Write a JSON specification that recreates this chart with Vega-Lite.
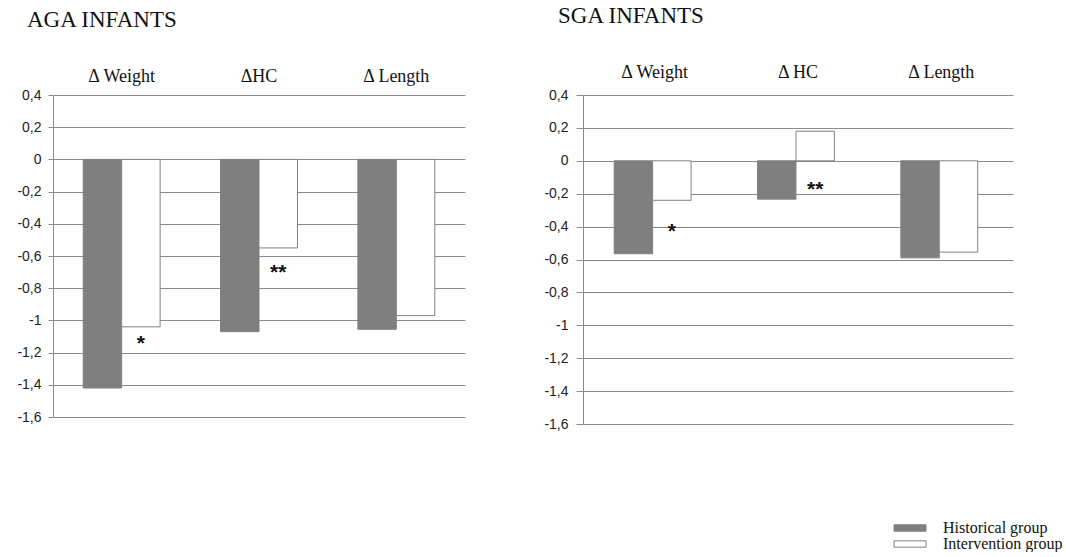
{
  "$schema": "https://vega.github.io/schema/vega-lite/v6.json",
  "padding": {"left": 16, "top": 5, "right": 5, "bottom": 0},
  "background": "white",
  "datasets": {
    "bars": [
      {"panel": "AGA", "measure": "Δ Weight", "group": "Historical group", "value": -1.42},
      {"panel": "AGA", "measure": "Δ Weight", "group": "Intervention group", "value": -1.04},
      {"panel": "AGA", "measure": "ΔHC", "group": "Historical group", "value": -1.07},
      {"panel": "AGA", "measure": "ΔHC", "group": "Intervention group", "value": -0.55},
      {"panel": "AGA", "measure": "Δ Length", "group": "Historical group", "value": -1.055},
      {"panel": "AGA", "measure": "Δ Length", "group": "Intervention group", "value": -0.97},
      {"panel": "SGA", "measure": "Δ Weight", "group": "Historical group", "value": -0.565},
      {"panel": "SGA", "measure": "Δ Weight", "group": "Intervention group", "value": -0.24},
      {"panel": "SGA", "measure": "Δ HC", "group": "Historical group", "value": -0.233},
      {"panel": "SGA", "measure": "Δ HC", "group": "Intervention group", "value": 0.18},
      {"panel": "SGA", "measure": "Δ Length", "group": "Historical group", "value": -0.59},
      {"panel": "SGA", "measure": "Δ Length", "group": "Intervention group", "value": -0.555}
    ],
    "stars": [
      {"panel": "AGA", "measure": "Δ Weight", "group": "Intervention group", "value": -1.116, "mark": "*"},
      {"panel": "AGA", "measure": "ΔHC", "group": "Intervention group", "value": -0.674, "mark": "**"},
      {"panel": "SGA", "measure": "Δ Weight", "group": "Intervention group", "value": -0.405, "mark": "*"},
      {"panel": "SGA", "measure": "Δ HC", "group": "Intervention group", "value": -0.149, "mark": "**"}
    ]
  },
  "config": {
    "view": {"stroke": null},
    "font": "Liberation Serif",
    "axisY": {
      "grid": true,
      "gridColor": "#8a8a8a",
      "gridOpacity": 1,
      "domainColor": "#8a8a8a",
      "tickColor": "#8a8a8a",
      "labelFont": "Liberation Sans",
      "labelColor": "#222222",
      "labelOverlap": false,
      "title": null
    },
    "axisX": {
      "orient": "top",
      "ticks": false,
      "domain": false,
      "grid": false,
      "labelAngle": 0,
      "labelFont": "Liberation Serif",
      "labelFontSize": 18,
      "labelColor": "#111111",
      "title": null
    },
    "title": {"font": "Liberation Serif", "fontSize": 23, "fontWeight": "normal", "color": "#111111", "anchor": "start", "frame": "group"}
  },
  "resolve": {"scale": {"color": "shared"}, "legend": {"color": "shared"}},
  "spacing": 78,
  "hconcat": [
    {
      "width": 412,
      "height": 322,
      "title": {"text": "AGA INFANTS", "dx": -26, "offset": 35},
      "encoding": {
        "x": {"field": "measure", "type": "nominal", "sort": ["Δ Weight", "ΔHC", "Δ Length"], "scale": {"paddingInner": 0.44, "paddingOuter": 0.22}, "axis": {"labelPadding": 10}},
        "xOffset": {"field": "group", "type": "nominal", "sort": ["Historical group", "Intervention group"], "scale": {"paddingInner": 0, "paddingOuter": 0}},
        "y": {"field": "value", "type": "quantitative", "scale": {"domain": [-1.6, 0.4], "nice": false}, "axis": {"values": [0.4, 0.2, 0, -0.2, -0.4, -0.6, -0.8, -1, -1.2, -1.4, -1.6], "labelExpr": "replace(toString(datum.value), '.', ',')", "labelFontSize": 14, "tickSize": 5, "labelPadding": 7}}
      },
      "layer": [
        {
          "data": {"name": "bars"},
          "transform": [{"filter": "datum.panel == 'AGA'"}],
          "mark": {"type": "bar", "stroke": "#808080", "strokeWidth": 1},
          "encoding": {
            "color": {
              "field": "group", "type": "nominal",
              "scale": {"domain": ["Historical group", "Intervention group"], "range": ["#7f7f7f", "#ffffff"]},
              "legend": {
                "title": null, "orient": "none", "legendX": 849, "legendY": 425,
                "symbolType": "M-4,-0.8H4V0.8H-4Z", "symbolSize": 64,
                "symbolStrokeColor": "#808080", "symbolStrokeWidth": 1,
                "labelFont": "Liberation Serif", "labelFontSize": 16, "labelColor": "#111111",
                "labelOffset": 25, "padding": 0, "rowPadding": 0
              }
            }
          }
        },
        {
          "data": {"name": "stars"},
          "transform": [{"filter": "datum.panel == 'AGA'"}],
          "mark": {"type": "text", "font": "Liberation Sans", "fontSize": 21, "fontWeight": "bold", "baseline": "alphabetic", "dy": 11, "color": "#111111"},
          "encoding": {
            "text": {"field": "mark"}
          }
        }
      ]
    },
    {
      "width": 430,
      "height": 329,
      "title": {"text": "SGA INFANTS", "dx": -25, "offset": 35},
      "encoding": {
        "x": {"field": "measure", "type": "nominal", "sort": ["Δ Weight", "Δ HC", "Δ Length"], "scale": {"paddingInner": 0.435, "paddingOuter": 0.2175}, "axis": {"labelPadding": 14}},
        "xOffset": {"field": "group", "type": "nominal", "sort": ["Historical group", "Intervention group"], "scale": {"paddingInner": 0, "paddingOuter": 0}},
        "y": {"field": "value", "type": "quantitative", "scale": {"domain": [-1.6, 0.4], "nice": false}, "axis": {"values": [0.4, 0.2, 0, -0.2, -0.4, -0.6, -0.8, -1, -1.2, -1.4, -1.6], "labelExpr": "replace(toString(datum.value), '.', ',')", "labelFontSize": 14, "tickSize": 7, "labelPadding": 8}}
      },
      "layer": [
        {
          "data": {"name": "bars"},
          "transform": [{"filter": "datum.panel == 'SGA'"}],
          "mark": {"type": "bar", "stroke": "#808080", "strokeWidth": 1},
          "encoding": {
            "color": {
              "field": "group", "type": "nominal",
              "scale": {"domain": ["Historical group", "Intervention group"], "range": ["#7f7f7f", "#ffffff"]}
            }
          }
        },
        {
          "data": {"name": "stars"},
          "transform": [{"filter": "datum.panel == 'SGA'"}],
          "mark": {"type": "text", "font": "Liberation Sans", "fontSize": 21, "fontWeight": "bold", "baseline": "alphabetic", "dy": 11, "color": "#111111"},
          "encoding": {
            "text": {"field": "mark"}
          }
        }
      ]
    }
  ]
}
